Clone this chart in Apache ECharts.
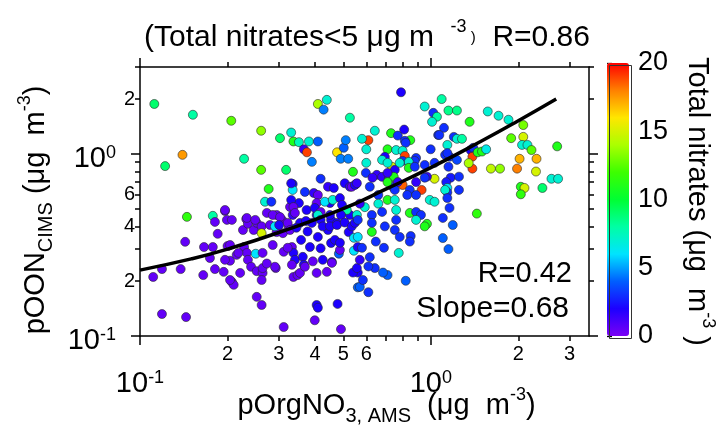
<!DOCTYPE html>
<html><head><meta charset="utf-8">
<script src="https://cdn.jsdelivr.net/npm/echarts@6/dist/echarts.min.js"></script>
<style>html,body{margin:0;padding:0;background:#fff}#c{width:726px;height:434px}</style>
</head><body><div id="c"></div>
<script>
// x: pOrgNO3,AMS (ug m-3)
const pOrgNO3 = [
.112,.152,.206,.261,.303,.337,.352,.331,.381,.409,
.409,.439,.428,.527,.140,.122,.228,.261,.318,.277,
.366,.375,.390,.418,.476,.502,.51,.49,.52,.540,
.335,.335,.369,.443,.464,.506,.527,.553,.79,1.09,
.953,1.15,1.23,1.02,1.05,1.01,1.11,1.06,1.20,1.23,
1.28,1.57,1.71,1.85,1.36,2.08,2.08,1.89,2.06,2.15,
2.22,2.72,2.02,2.31,1.98,2.30,1.61,1.73,2.60,2.74,
2.04,2.10,2.04,2.42,1.37,1.40,1.39,1.39,1.35,1.45,
1.50,1.55,1.14,1.12,1.16,1.23,1.15,1.17,1.25,1.13,
1.14,1.14,1.03,.999,.97,.93,.80,.735,.61,.58,
.642,.73,.77,.81,.85,.814,.82,.60,.71,.76,
.80,.814,.89,.88,.80,.84,.695,.68,.71,.84,
.752,.598,.652,.68,.717,.746,.74,
.111,.119,.138,.119,.144,.145,.178,.143,.165,.166,
.174,.181,.185,.178,.181,.194,.196,.199,.207,.200,
.204,.207,.210,.215,.221,.226,.232,.235,.228,.233,
.235,.241,.246,.252,.25,.252,.262,.262,.264,.264,
.262,.252,.262,.273,.280,.295,.286,.293,.295,.308,
.310,.312,.328,.325,.335,.333,.337,.341,.337,.352,
.355,.358,.363,.366,.348,.374,.377,.384,.393,.390,
.405,.409,.418,.425,.405,.409,.399,.478,.491,.312,
.45,.454,.443,.454,.457,.468,.476,.483,.502,.522,
.527,.544,.544,.561,.561,.561,.540,
.331,.269,.283,.331,.337,.341,.396,.409,.405,.399,
.418,.432,.46,.487,.535,.548,.495,.514,.491,.45,
.409,.196,.233,.249,.286,.303,.291,.301,.322,.328,
.345,.372,.418,.425,.45,.476,.506,.535,.557,.548,
1.07,1.14,.60,.782,.881,.953,1.03,.953,.89,.77,
.71,.63,.557,.71,.752,.847,.83,.89,.992,1.03,
1.12,1.14,1.25,1.16,1.19,1.10,1.44,.617,.66,.71,
.752,.66,.593,.57,.627,.68,.76,.847,.89,.925,
.89,.97,.76,.627,.561,.695,
.204,.218,.196,.204,.264,.291,.273,.322,.333,.355,
.369,.405,.439,.457,.487,.487,.557,
1.10,1.15,.776,.82,.71,.685,.642,.61,.57,.61,
.57,.617,.58,.647,.69,.627,.561,.752,.782,.853,
.847,.953,.584];
// y: pOON,CIMS (ug m-3)
const pOON = [
1.88,1.64,1.52,1.34,1.22,1.17,1.16,1.31,1.17,1.17,
1.88,1.98,1.75,1.58,.988,.857,.94,.817,.817,.642,
1.06,1.02,.904,.73,1.02,1.08,1.19,.94,.94,.797,
.683,.634,.618,.66,.65,.69,.66,.683,2.18,2.0,
1.82,1.73,1.73,1.68,1.60,1.50,1.39,1.27,1.24,1.21,
1.21,1.71,1.62,1.54,1.50,1.44,1.24,1.22,1.12,1.12,
1.05,1.10,.94,.94,.83,.80,.83,.83,.73,.73,
.66,.65,.60,.65,1.05,1.08,.965,.83,.89,1.02,
1.03,1.06,1.12,.988,.965,.927,.85,.74,.75,.70,
.65,.615,.73,1.06,.75,.634,.675,.85,1.19,1.21,
1.34,1.30,1.26,1.36,1.19,1.18,1.15,1.06,1.06,1.05,
1.04,.975,.95,.915,.915,.904,.963,.927,.893,.838,
.817,.786,.767,.748,.73,.748,.66,
.211,.233,.233,.132,.127,.451,.457,.329,.216,.308,
.268,.423,.364,.308,.233,.225,.486,.434,.434,.312,
.259,.198,.191,.279,.222,.382,.439,.413,.308,.286,
.262,.240,.382,.418,.283,.227,.40,.367,.286,.222,
.203,.164,.148,.474,.407,.462,.316,.236,.372,.434,
.367,.29,.511,.396,.462,.308,.286,.262,.211,.537,
.418,.337,.272,.246,.216,.492,.375,.308,.257,.418,
.462,.35,.303,.262,.148,.143,.122,.150,.109,.112,
.537,.434,.382,.324,.255,.337,.418,.283,.492,.372,
.462,.346,.294,.185,.308,.223,.223,
.689,.546,.546,.559,.511,.474,.61,.595,.537,.505,
.48,.546,.559,.572,.66,.675,.525,.492,.462,.462,
.462,.492,.445,.434,.462,.45,.40,.407,.418,.382,
.393,.428,.434,.40,.40,.407,.42,.40,.462,.418,
1.27,1.01,.893,.893,.85,.87,.893,.74,.70,.70,
.786,.74,.69,.70,.634,.634,.595,.595,.559,.546,
.634,.572,.634,.505,.407,.445,.47,.66,.595,.559,
.559,.533,.51,.533,.462,.48,.492,.474,.48,.462,
.434,.413,.434,.418,.434,.40,
.316,.286,.262,.203,.236,.24,.25,.305,.246,.222,
.24,.222,.225,.252,.297,.325,.236,
.345,.30,.286,.201,.216,.223,.236,.241,.186,.174,
.262,.271,.305,.33,.305,.373,.35,.382,.35,.354,
.33,.40,.203];
// colour: total nitrates (ug m-3)
const totalNitrates = [
9,8,12.5,13.5,9,11,7.5,7,7,4,
14,7,4.5,8,17.5,9,8,12.5,9,11,
1.5,19,4.5,3,16,4,4.5,4.5,4.5,11,
2.5,6,3,1.5,2,2,1.5,2,2,8,
7,8.5,8.5,3,8,7,3,3,3,7,
8,7,7,7,11,13,15,12.5,7,7,
12.5,11,17,17,18,15,14.5,13.5,7,7,
11,15,11.5,9,2,3,19,19,14,11,
11,6.5,7,3,3,3.5,3,2.5,3,2.5,
6,3,15,3,1.5,19,18.5,15,19,7,
7,11,3,2,11,3,3,7,11,7,
7,19,3,3,3,7,2,7,7,11,
2,3,1.5,1.5,1.5,11,3,
0.5,0.5,0.5,0.5,0.5,11.5,8,0.5,0.5,0.5,
0.5,0.5,0.5,0.5,0.5,0.5,0.5,0.5,0.5,0.5,
0.5,0.5,0.5,0.5,0.5,0.5,0.5,0.5,0.5,0.5,
0.5,0.5,0.5,0.5,6,0.5,0.5,15,0.5,0.5,
0.5,0.5,0.5,0.5,0.5,0.5,0.5,0.5,0.5,0.5,
0.5,0.5,0.5,0.5,1.5,0.5,2,2,0.5,2,
2,2,2,2,0.5,2,2,2,0.5,2,
2,2,2,2,2,2,0.5,2,0.5,0.5,
2,2,2,2,2,2,2,4,2,2,
2,6,6,4,2,2,2,
2,7,3,2,0.5,0.5,1.5,0.5,0.5,2,
0.5,6,7,2,0.5,2,2,8,2,2,
7,0.5,0.5,0.5,0.5,0.5,6,2,0.5,0.5,
2,2,2,2,2,2,2,2,7,2,
3,3,7,7,3,3,3,3,1.5,1.5,
1.5,1.5,1.5,11,3,3,3,3,7,7,
7,3,3,3,4,3,11.5,3,3,11,
7,7,7,1.5,3,3,7,11,3,3,
7,11,3,3,3,3,
0.5,0.5,0.5,0.5,0.5,0.5,0.5,0.5,0.5,0.5,
0.5,0.5,0.5,0.5,0.5,2,2,
4,4,7,4,4,4,3,3,4,3,
1.5,3,3,3,3,11,6,3,3,3,
3,11,3];
// fitted line
const fitX = [0.1, 0.15, 0.2, 0.3, 0.5, 0.7, 1.0, 1.5, 2.0, 2.7];
const fitY = [0.23, 0.265, 0.30, 0.37, 0.50, 0.64, 0.84, 1.18, 1.52, 2.0];
// ticks
const xMinorTicks = [0.2,0.3,0.4,0.5,0.6,0.7,0.8,0.9,2,3];
const xMinorLabels = [0.2,0.3,0.4,0.5,0.6,2,3];
const xMajor = [0.1, 1];
const yMinorTicks = [0.2,0.3,0.4,0.5,0.6,0.7,0.8,0.9,2,3];
const yMinorLabels = [0.2,0.4,0.6,2];
const yMajor = [0.1, 1];
const cbMin = 0, cbMax = 20, cbStep = 5;
const cmap = ['#7a00f5','#1d00ff','#005eff','#00e3ff','#00ffa4','#00ff33','#3dff00','#abff00','#ffe600','#ff8000','#ff0000'];

const FONT = '"Liberation Sans", Arial, sans-serif';
const mk = (fs, lh) => ({
  a:   {fontSize: fs, fontFamily: FONT, fontWeight: 'normal', color: '#000', lineHeight: lh, verticalAlign: 'middle'},
  sup: {fontSize: 18, fontFamily: FONT, fontWeight: 'normal', color: '#000', lineHeight: 18, verticalAlign: 'top'},
  sub: {fontSize: 20, fontFamily: FONT, fontWeight: 'normal', color: '#000', lineHeight: 18, verticalAlign: 'bottom'},
  sm:  {fontSize: 15, fontFamily: FONT, fontWeight: 'normal', color: '#000', lineHeight: 18, verticalAlign: 'middle'}
});
const rich = mk(29, 40);
const richTitle = mk(30, 40);
const richTick = mk(29, 30);
const digit = v => String(Math.round(v < 1 ? v * 10 : v));
const pow10 = v => v < 0.5 ? '{a|10}{sup|-1}' : '{a|10}{sup|0}';
const X0 = 0.1, X1 = 3.5, Y0 = 0.1, Y1 = 3.0;
const black = {color: '#000', width: 1.5};

const data = pOrgNO3.map((x, i) => [x, pOON[i], totalNitrates[i]]);
const fit = fitX.map((x, i) => [x, fitY[i]]);

const G = {left: 140, top: 67, right: 137, bottom: 98, outerBoundsMode: 'none', containLabel: false};
const logAxis = (extra) => Object.assign({type: 'log', logBase: 10, splitLine: {show: false}}, extra);
const line = (show) => ({show: show, onZero: false, lineStyle: black});

const chart = echarts.init(document.getElementById('c'), null, {renderer: 'canvas'});
chart.setOption({
  animation: false,
  textStyle: {fontFamily: FONT},
  title: [
    {text: '{a|(Total nitrates<5 μg m  }{sup|-3}{sm| )}{a|  R=0.86}', left: 144, top: 18, padding: 0, textStyle: {fontWeight: 'normal', rich: richTitle}},
    {text: 'R=0.42', right: 154, top: 259, padding: 0, textStyle: {fontSize: 29, fontWeight: 'normal', color: '#000', fontFamily: FONT}},
    {text: 'Slope=0.68', right: 157, top: 294, padding: 0, textStyle: {fontSize: 30, fontWeight: 'normal', color: '#000', fontFamily: FONT}}
  ],
  grid: [
    Object.assign({}, G),
    {left: 607, top: 63, width: 22, height: 273, outerBoundsMode: 'none', containLabel: false},
    Object.assign({}, G)
  ],
  xAxis: [
    logAxis({gridIndex: 0, position: 'bottom', min: X0, max: X1, axisLine: line(true),
      axisTick: {customValues: xMinorTicks, length: 5, lineStyle: black},
      axisLabel: {customValues: xMinorLabels, formatter: digit, fontSize: 20, color: '#000', margin: 8}}),
    logAxis({gridIndex: 0, position: 'top', min: X0, max: X1, axisLine: line(true),
      axisTick: {customValues: xMinorTicks, length: 5, lineStyle: black}, axisLabel: {show: false}}),
    logAxis({gridIndex: 2, position: 'bottom', min: X0, max: X1, axisLine: line(false),
      axisTick: {customValues: xMajor, length: 9, lineStyle: black},
      axisLabel: {customValues: xMajor, formatter: pow10, margin: 33, rich: richTick},
      name: '{a|pOrgNO}{sub|3, AMS}{a|  (μg  m}{sup|-3}{a|)}', nameLocation: 'middle', nameGap: 50,
      nameMoveOverlap: false,
      nameTextStyle: {rich, padding: [0, 0, 0, 44]}}),
    logAxis({gridIndex: 2, position: 'top', min: X0, max: X1, axisLine: line(false),
      axisTick: {customValues: xMajor, length: 9, lineStyle: black}, axisLabel: {show: false}}),
    {gridIndex: 1, type: 'value', show: false, min: 0, max: 1}
  ],
  yAxis: [
    logAxis({gridIndex: 0, position: 'left', min: Y0, max: Y1, axisLine: line(true),
      axisTick: {customValues: yMinorTicks, length: 5, lineStyle: black},
      axisLabel: {customValues: yMinorLabels, formatter: digit, fontSize: 20, color: '#000', margin: 5}}),
    logAxis({gridIndex: 0, position: 'right', min: Y0, max: Y1, axisLine: line(true),
      axisTick: {customValues: yMinorTicks, length: 5, lineStyle: black}, axisLabel: {show: false}}),
    logAxis({gridIndex: 2, position: 'left', min: Y0, max: Y1, axisLine: line(false),
      axisTick: {customValues: yMajor, length: 9, lineStyle: black},
      axisLabel: {customValues: yMajor, formatter: pow10, margin: 24, rich: richTick, padding: [10, 0, 0, 0]},
      name: '{a|pOON}{sub|CIMS}{a| (μg  m}{sup|-3}{a|)}', nameLocation: 'middle', nameGap: 84, nameRotate: 90,
      nameMoveOverlap: false,
      nameTextStyle: {rich, padding: [0, 17, 0, 0]}}),
    logAxis({gridIndex: 2, position: 'right', min: Y0, max: Y1, axisLine: line(false),
      axisTick: {customValues: yMajor, length: 9, lineStyle: black}, axisLabel: {show: false}}),
    {gridIndex: 1, type: 'value', position: 'right', min: cbMin, max: cbMax, interval: cbStep,
      axisLine: {show: false}, splitLine: {show: false},
      axisTick: {show: true, length: 5, lineStyle: {color: '#000', width: 1.3}},
      axisLabel: {fontSize: 27, color: '#000', margin: 9},
      name: '{a|Total nitrates (μg  m}{sup|-3}{a| )}', nameLocation: 'middle', nameRotate: -90, nameGap: 48,
      nameMoveOverlap: false,
      nameTextStyle: {rich, padding: [0, 0, 0, 4]}}
  ],
  visualMap: {
    type: 'continuous', min: cbMin, max: cbMax, dimension: 2, seriesIndex: 0,
    left: 607, top: 63, itemWidth: 22, itemHeight: 273, padding: 0,
    calculable: false, text: null, inRange: {color: cmap}, orient: 'vertical'
  },
  graphic: [
    {type: 'rect', left: 607, top: 63, shape: {width: 22, height: 273}, style: {fill: null, stroke: '#333', lineWidth: 1}, z: 100}
  ],
  series: [
    {type: 'scatter', xAxisIndex: 0, yAxisIndex: 0, data: data, symbolSize: 9,
      itemStyle: {borderColor: '#2a2a2a', borderWidth: 0.6, opacity: 1}, z: 2},
    {type: 'line', xAxisIndex: 0, yAxisIndex: 0, data: fit, smooth: true, symbol: 'none',
      lineStyle: {color: '#000', width: 3.5}, z: 5}
  ]
});
</script></body></html>
